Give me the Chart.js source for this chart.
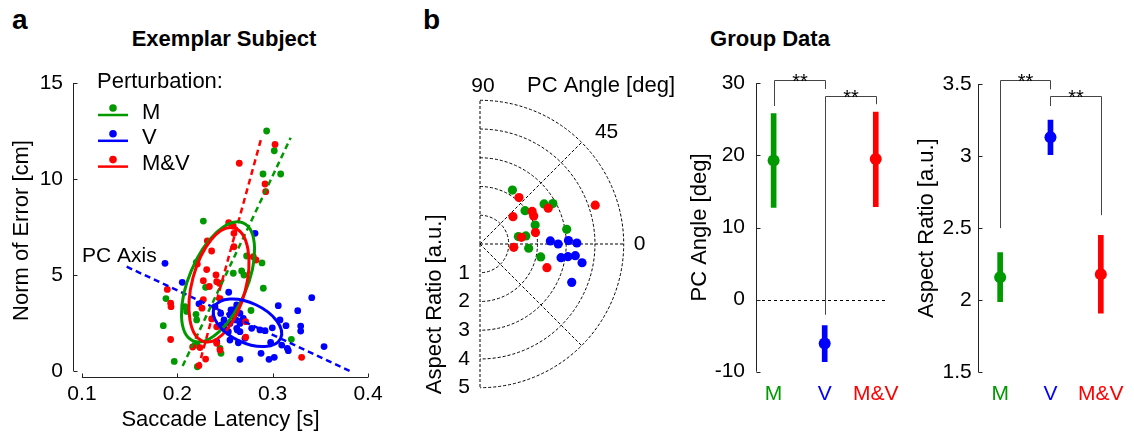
<!DOCTYPE html>
<html>
<head>
<meta charset="utf-8">
<script src="https://cdn.jsdelivr.net/npm/chart.js@4.4.1/dist/chart.umd.min.js"></script>
<style>
  body { margin: 0; background: #fff; }
  #page { position: relative; width: 1134px; height: 434px; overflow: hidden; font-family: 'Liberation Sans', Arial, sans-serif; }
  canvas { position: absolute; top: 0; }
  .txt { position: absolute; white-space: nowrap; color: #000; line-height: 1; font-weight: bold; }
</style>
</head>
<body>
<div id="page">
  <div class="txt" style="left:12px; top:6px; font-size:28px;">a</div>
  <div class="txt" style="left:423px; top:6px; font-size:28px;">b</div>
  <div class="txt" style="left:224px; top:28px; font-size:22px; transform:translateX(-50%);">Exemplar Subject</div>
  <div class="txt" style="left:770px; top:28px; font-size:22px; transform:translateX(-50%);">Group Data</div>
  <canvas id="scatter" width="400" height="434" style="left:0px"></canvas>
  <canvas id="polar" width="300" height="434" style="left:400px"></canvas>
  <canvas id="angle" width="230" height="434" style="left:680px"></canvas>
  <canvas id="ratio" width="224" height="434" style="left:910px"></canvas>
</div>
<script>
const colorM = '#009900'
const colorV = '#0000ff'
const colorMV = '#ff0000'

// panel a: one subject, saccade latency [s] vs norm of error [cm]
const latencyTicks = [0.1, 0.2, 0.3, 0.4]
const errorTicks = [0, 5, 10, 15]

const latencyM = [0.2937, 0.3017, 0.2899, 0.3084, 0.2273, 0.2727, 0.2199, 0.2888, 0.2587, 0.2675, 0.2699, 0.2902, 0.2297,
  0.1881, 0.208, 0.2098, 0.2196, 0.2203, 0.1853, 0.2773, 0.3196, 0.2458, 0.221, 0.1968, 0.2206, 0.2448]
const errorM = [12.5, 11.47, 10.26, 10.26, 7.81, 5.99, 5.66, 5.63, 5.09, 5.21, 5.0, 4.31, 4.36,
  3.77, 3.35, 3.1, 2.95, 2.66, 2.36, 3.15, 1.65, 0.92, 0.22, 0.5, 1.35, 1.18]

const latencyV = [0.1871, 0.2815, 0.2052, 0.2539, 0.341, 0.2227, 0.3059, 0.3263, 0.3294, 0.3294, 0.314, 0.3077, 0.2996,
  0.2867, 0.292, 0.278, 0.2623, 0.2657, 0.271, 0.2552, 0.264, 0.2979, 0.3095, 0.3154, 0.3164, 0.3539, 0.2878, 0.2657,
  0.2962, 0.3017, 0.2413, 0.2623, 0.2587, 0.2552, 0.2657, 0.2395, 0.2455, 0.249, 0.2563, 0.2605, 0.2465, 0.249, 0.2535,
  0.2552, 0.2605, 0.2629, 0.2657, 0.2692]
const errorV = [5.61, 7.17, 4.62, 4.1, 3.82, 3.5, 3.4, 3.14, 2.34, 2.08, 2.36, 2.66, 2.25,
  2.14, 2.1, 2.22, 2.22, 2.05, 1.7, 1.61, 1.47, 1.49, 1.35, 1.18, 1.06, 1.27, 0.92, 0.61,
  0.61, 0.71, 1.53, 3.44, 3.18, 2.92, 3.0, 3.35, 3.0, 2.66, 3.18, 3.18, 2.4, 2.22, 2.05,
  2.48, 2.66, 2.14, 2.48, 2.74]

const latencyMV = [0.3025, 0.265, 0.292, 0.2927, 0.2539, 0.2587, 0.2594, 0.2315, 0.236, 0.2594, 0.2797, 0.2825, 0.221,
  0.2308, 0.2406, 0.1895, 0.193, 0.1934, 0.2273, 0.2336, 0.2413, 0.244, 0.2273, 0.2448, 0.2259, 0.236, 0.2413, 0.193,
  0.2161, 0.2238, 0.2413, 0.2448, 0.2297, 0.2227, 0.3304, 0.2717, 0.2717]
const errorMV = [11.8, 10.82, 9.74, 9.34, 7.72, 7.55, 7.17, 6.77, 6.25, 6.47, 5.95, 5.78, 5.57,
  5.28, 5.0, 4.25, 3.53, 3.35, 4.7, 4.4, 4.65, 4.57, 3.72, 3.77, 3.27, 2.71, 2.3, 1.64,
  1.25, 1.22, 1.44, 1.09, 0.62, 0.28, 0.71, 2.57, 1.76]

// principal component axes (end points)
const pcLatencyM = [0.2056, 0.3189]
const pcErrorM = [0.26, 12.15]
const pcLatencyV = [0.1469, 0.3811]
const pcErrorV = [5.43, 0]
const pcLatencyMV = [0.222, 0.2885]
const pcErrorMV = [0.17, 12.2]

// covariance ellipses: centre, major semi-axis, minor semi-axis (data units)
const ellipseM = [[0.2427, 4.64], [0.0262, 3.07], [0.028, -0.59]]
const ellipseV = [[0.2736, 2.51], [0.0348, -0.807], [0.0088, 0.94]]
const ellipseMV = [[0.2437, 4.49], [0.0157, 2.96], [0.0273, -0.36]]

// panel b: PC angle [deg] and aspect ratio per subject
const angleM = [59, 36.5, 32, 29, 19, 11, 10, -5, -12, 9.6]
const ratioM = [2.19, 1.95, 2.63, 2.9, 2.03, 1.36, 1.62, 1.7, 2.16, 3.06]
const angleV = [2.5, 0, 2.2, 0.6, -9.6, -8.2, -7.0, -10.4, -22.7]
const ratioV = [2.45, 2.72, 3.08, 3.37, 2.86, 3.09, 3.34, 3.61, 3.46]
const angleMV = [50, 39.6, 32, 27.6, 27.7, 11.6, 9.2, -5.6, -19.5, 18.6]
const ratioMV = [2.11, 1.49, 2.14, 2.11, 2.68, 1.97, 1.46, 1.18, 2.47, 4.23]
const ratioRings = [1, 2, 3, 4, 5]
const angleSpokes = [90, 45, 0, -45, -90]

// group data
const groups = ['M', 'V', 'M&V']
const groupColors = [colorM, colorV, colorMV]
const angleMean = [19.3, -6.1, 19.5]
const angleLow = [12.8, -8.6, 12.9]
const angleHigh = [25.8, -3.6, 26.0]
const angleTicks = [-10, 0, 10, 20, 30]
const ratioMean = [2.16, 3.13, 2.18]
const ratioLow = [1.99, 3.01, 1.91]
const ratioHigh = [2.33, 3.25, 2.45]
const ratioTicks = [1.5, 2, 2.5, 3, 3.5]
// significance brackets: [from group, to group, bracket level, left end, right end]
const angleBrackets = [[0, 1, 30.46, 26.85, 29.2], [1, 2, 28.2, -2.1, 27.1]]
const ratioBrackets = [[0, 1, 3.528, 2.5, 3.463], [1, 2, 3.415, 3.347, 2.59]]

Chart.defaults.font.family = "'Liberation Sans', Arial, sans-serif"
Chart.defaults.color = '#000'

const pts = (xs, ys) => xs.map((x, i) => ({ x, y: ys[i] }))
const polarPts = (as, rs) => as.map((a, i) => ({
  x: rs[i] * Math.cos(a * Math.PI / 180),
  y: rs[i] * Math.sin(a * Math.PI / 180)
}))

// axis lines with inward ticks, offset from each other like the original
const axisLines = {
  id: 'axisLines',
  afterDraw(chart, args, opts) {
    const { ctx, chartArea, scales } = chart
    ctx.save()
    ctx.strokeStyle = '#222'
    ctx.lineWidth = 1
    ctx.beginPath()
    if (opts.y) {
      const ys = scales.y
      const x0 = Math.round(chartArea.left) + 0.5
      ctx.moveTo(x0, ys.getPixelForValue(opts.y[0]))
      ctx.lineTo(x0, ys.getPixelForValue(opts.y[1]))
      ys.ticks.forEach((t) => {
        const p = Math.round(ys.getPixelForValue(t.value)) + 0.5
        ctx.moveTo(x0, p)
        ctx.lineTo(x0 + 4, p)
      })
    }
    if (opts.x) {
      const xs = scales.x
      const y0 = Math.round(chartArea.bottom) - 0.5
      ctx.moveTo(xs.getPixelForValue(opts.x[0]), y0)
      ctx.lineTo(xs.getPixelForValue(opts.x[1]), y0)
      xs.ticks.forEach((t) => {
        const p = Math.round(xs.getPixelForValue(t.value)) + 0.5
        ctx.moveTo(p, y0)
        ctx.lineTo(p, y0 - 4)
      })
    }
    ctx.stroke()
    ctx.restore()
  }
}

const ellipses = {
  id: 'ellipses',
  afterDatasetsDraw(chart) {
    const { ctx, scales: { x, y } } = chart
    const list = [[ellipseM, colorM], [ellipseMV, colorMV], [ellipseV, colorV]]
    list.forEach(([e, color]) => {
      const [c, a, b] = e
      const cx = x.getPixelForValue(c[0]), cy = y.getPixelForValue(c[1])
      const ax = x.getPixelForValue(c[0] + a[0]) - cx, ay = y.getPixelForValue(c[1] + a[1]) - cy
      const bx = x.getPixelForValue(c[0] + b[0]) - cx, by = y.getPixelForValue(c[1] + b[1]) - cy
      ctx.save()
      ctx.beginPath()
      ctx.transform(ax, ay, bx, by, cx, cy)
      ctx.arc(0, 0, 1, 0, Math.PI * 2)
      ctx.restore()
      ctx.save()
      ctx.strokeStyle = color
      ctx.lineWidth = 3
      ctx.stroke()
      ctx.restore()
    })
  }
}

const scatterLegend = {
  id: 'scatterLegend',
  afterDraw(chart) {
    const ctx = chart.ctx
    ctx.save()
    ctx.fillStyle = '#000'
    ctx.textBaseline = 'alphabetic'
    ctx.font = "22px 'Liberation Sans', Arial, sans-serif"
    ctx.fillText('Perturbation:', 97, 88)
    groups.forEach((g, i) => {
      const dy = i * 25.8
      ctx.strokeStyle = groupColors[i]
      ctx.lineWidth = 2.5
      ctx.beginPath()
      ctx.moveTo(98, 115 + dy)
      ctx.lineTo(128, 115 + dy)
      ctx.stroke()
      ctx.fillStyle = groupColors[i]
      ctx.beginPath()
      ctx.arc(113, 108 + dy, 3.8, 0, Math.PI * 2)
      ctx.fill()
      ctx.fillStyle = '#000'
      ctx.fillText(g, 142, 118.5 + dy)
    })
    ctx.font = "21px 'Liberation Sans', Arial, sans-serif"
    ctx.fillText('PC Axis', 82, 261.5)
    ctx.restore()
  }
}

const lineSet = (xs, ys, color) => ({
  type: 'line', data: pts(xs, ys), borderColor: color, borderWidth: 2.5,
  borderDash: [6, 4], pointRadius: 0, clip: false
})
const dotSet = (xs, ys, color) => ({
  type: 'scatter', data: pts(xs, ys), backgroundColor: color,
  pointRadius: 3.4, borderWidth: 0, clip: false
})

new Chart(document.getElementById('scatter'), {
  type: 'scatter',
  data: {
    datasets: [
      lineSet(pcLatencyMV, pcErrorMV, colorMV),
      lineSet(pcLatencyM, pcErrorM, colorM),
      lineSet(pcLatencyV, pcErrorV, colorV),
      dotSet(latencyMV, errorMV, colorMV),
      dotSet(latencyV, errorV, colorV),
      dotSet(latencyM, errorM, colorM),
    ]
  },
  plugins: [axisLines, ellipses, scatterLegend],
  options: {
    responsive: false,
    animation: false,
    layout: { padding: { left: 0, right: 32, top: 83, bottom: 0 } },
    plugins: {
      legend: { display: false },
      tooltip: { enabled: false },
      axisLines: { x: [0.1, 0.4], y: [0, 15] },
    },
    scales: {
      x: {
        type: 'linear', min: 0.0906, max: 0.4,
        grid: { display: false, drawTicks: false }, border: { display: false },
        afterBuildTicks: (s) => { s.ticks = latencyTicks.map((v) => ({ value: v })) },
        afterFit: (s) => { s.height = 56 },
        ticks: { autoSkip: false, maxRotation: 0, padding: 3.5, font: { size: 21 }, callback: (v) => String(v) },
        title: { display: true, text: 'Saccade Latency [s]', font: { size: 22 }, padding: { top: 0, bottom: 1 } },
      },
      y: {
        type: 'linear', min: -0.365, max: 15,
        grid: { display: false, drawTicks: false }, border: { display: false },
        afterBuildTicks: (s) => { s.ticks = errorTicks.map((v) => ({ value: v })) },
        afterFit: (s) => { s.width = 73 },
        ticks: { autoSkip: false, padding: 10, font: { size: 21 }, callback: (v) => String(v) },
        title: { display: true, text: 'Norm of Error [cm]', font: { size: 22 }, padding: { top: 9, bottom: 0 } },
      }
    }
  }
})

// half-polar plot drawn on a square linear x/y scale pair
const polarGrid = {
  id: 'polarGrid',
  beforeDatasetsDraw(chart) {
    const { ctx, scales: { x, y } } = chart
    const cx = x.getPixelForValue(0), cy = y.getPixelForValue(0)
    const unit = x.getPixelForValue(1) - cx
    const R = ratioRings[ratioRings.length - 1]
    ctx.save()
    ctx.strokeStyle = '#000'
    ctx.lineWidth = 1
    ctx.setLineDash([3, 2])
    ratioRings.forEach((r) => {
      ctx.beginPath()
      ctx.arc(cx, cy, r * unit, -Math.PI / 2, Math.PI / 2)
      ctx.stroke()
    })
    angleSpokes.forEach((a) => {
      const t = a * Math.PI / 180
      ctx.beginPath()
      ctx.moveTo(cx, cy)
      ctx.lineTo(x.getPixelForValue(R * Math.cos(t)), y.getPixelForValue(R * Math.sin(t)))
      ctx.stroke()
    })
    ctx.restore()
  },
  afterDraw(chart) {
    const { ctx, scales: { x, y } } = chart
    const R = ratioRings[ratioRings.length - 1]
    const at = (a) => [x.getPixelForValue(R * Math.cos(a * Math.PI / 180)), y.getPixelForValue(R * Math.sin(a * Math.PI / 180))]
    ctx.save()
    ctx.fillStyle = '#000'
    ctx.textBaseline = 'middle'
    ctx.textAlign = 'center'
    ctx.font = "21px 'Liberation Sans', Arial, sans-serif"
    let p = at(90)
    ctx.fillText('90', p[0] + 3, p[1] - 14)
    p = at(45)
    ctx.fillText('45', p[0] + 25, p[1] - 10)
    p = at(0)
    ctx.fillText('0', p[0] + 16, p[1])
    ctx.textAlign = 'right'
    const cx = x.getPixelForValue(0)
    ratioRings.forEach((r) => {
      ctx.fillText(String(r), cx - 10, y.getPixelForValue(-r))
    })
    ctx.textAlign = 'center'
    ctx.font = "22px 'Liberation Sans', Arial, sans-serif"
    p = at(90)
    ctx.fillText('PC Angle [deg]', p[0] + 121, p[1] - 14)
    ctx.translate(cx - 45, y.getPixelForValue(-2.1))
    ctx.rotate(-Math.PI / 2)
    ctx.fillText('Aspect Ratio [a.u.]', 0, 0)
    ctx.restore()
  }
}

const polarSet = (as, rs, color) => ({
  data: polarPts(as, rs), backgroundColor: color, pointRadius: 4.6, borderWidth: 0, clip: false
})

new Chart(document.getElementById('polar'), {
  type: 'scatter',
  data: {
    datasets: [
      polarSet(angleMV, ratioMV, colorMV),
      polarSet(angleV, ratioV, colorV),
      polarSet(angleM, ratioM, colorM),
    ]
  },
  plugins: [polarGrid],
  options: {
    responsive: false,
    animation: false,
    layout: { padding: { left: 80, right: 76.3, top: 100.3, bottom: 46.3 } },
    plugins: { legend: { display: false }, tooltip: { enabled: false } },
    scales: {
      x: { type: 'linear', min: 0, max: 5, display: false },
      y: { type: 'linear', min: -5, max: 5, display: false },
    }
  }
})

const groupMarks = {
  id: 'groupMarks',
  beforeDatasetsDraw(chart, args, opts) {
    const { ctx, chartArea, scales: { x, y } } = chart
    ctx.save()
    ctx.strokeStyle = '#000'
    ctx.lineWidth = 1
    if (opts.zeroLine) {
      const p = Math.round(y.getPixelForValue(0)) + 0.5
      ctx.setLineDash([3, 3])
      ctx.beginPath()
      ctx.moveTo(chartArea.left, p)
      ctx.lineTo(chartArea.right, p)
      ctx.stroke()
      ctx.setLineDash([])
    }
    ctx.strokeStyle = '#444'
    ctx.fillStyle = '#000'
    ctx.font = "20px 'Liberation Sans', Arial, sans-serif"
    ctx.textAlign = 'center'
    ctx.textBaseline = 'alphabetic'
    opts.brackets.forEach(([a, b, level, endA, endB]) => {
      const xa = Math.round(x.getPixelForValue(a)) + 0.5
      const xb = Math.round(x.getPixelForValue(b)) + 0.5
      const yl = Math.round(y.getPixelForValue(level)) + 0.5
      ctx.beginPath()
      ctx.moveTo(xa, y.getPixelForValue(endA))
      ctx.lineTo(xa, yl)
      ctx.lineTo(xb, yl)
      ctx.lineTo(xb, y.getPixelForValue(endB))
      ctx.stroke()
      ctx.fillText('**', (xa + xb) / 2, yl + 7)
    })
    ctx.restore()
  }
}

function groupChart(id, cfg) {
  return new Chart(document.getElementById(id), {
    type: 'bar',
    data: {
      datasets: [
        {
          type: 'scatter', data: pts([0, 1, 2], cfg.mean), backgroundColor: groupColors,
          pointRadius: 6, borderWidth: 0, clip: false
        },
        {
          type: 'bar', data: groups.map((g, i) => ({ x: i, y: [cfg.low[i], cfg.high[i]] })),
          backgroundColor: groupColors, barThickness: 5, borderWidth: 0, borderSkipped: false
        },
      ]
    },
    plugins: [axisLines, groupMarks],
    options: {
      responsive: false,
      animation: false,
      layout: { padding: { left: 0, right: cfg.padRight, top: cfg.padTop, bottom: 0 } },
      plugins: {
        legend: { display: false },
        tooltip: { enabled: false },
        axisLines: { y: [cfg.ticks[0], cfg.ticks[cfg.ticks.length - 1]] },
        groupMarks: { brackets: cfg.brackets, zeroLine: cfg.zeroLine },
      },
      scales: {
        x: {
          type: 'linear', min: cfg.xMin, max: cfg.xMax, offset: false,
          grid: { display: false, drawTicks: false }, border: { display: false },
          afterBuildTicks: (s) => { s.ticks = groups.map((g, i) => ({ value: i })) },
          afterFit: (s) => { s.height = cfg.xHeight },
          ticks: {
            autoSkip: false, maxRotation: 0, padding: cfg.xPad, font: { size: 21 },
            color: (c) => groupColors[c.index], callback: (v, i) => groups[i]
          },
        },
        y: {
          type: 'linear', min: cfg.ticks[0], max: cfg.ticks[cfg.ticks.length - 1],
          grid: { display: false, drawTicks: false }, border: { display: false },
          afterBuildTicks: (s) => { s.ticks = cfg.ticks.map((v) => ({ value: v })) },
          afterFit: (s) => { s.width = cfg.yWidth },
          ticks: { autoSkip: false, padding: cfg.yPad, font: { size: 21 }, callback: (v) => String(v) },
          title: { display: true, text: cfg.title, font: { size: 22 }, padding: { top: cfg.titlePad, bottom: 0 } },
        }
      }
    }
  })
}

groupChart('angle', {
  mean: angleMean, low: angleLow, high: angleHigh, ticks: angleTicks, brackets: angleBrackets,
  zeroLine: true, title: 'PC Angle [deg]',
  xMin: -0.345, xMax: 2.24, padRight: 17, padTop: 83.3, xHeight: 62.3, yWidth: 76,
  yPad: 11, xPad: 9.9, titlePad: 6.8,
})

groupChart('ratio', {
  mean: ratioMean, low: ratioLow, high: ratioHigh, ticks: ratioTicks, brackets: ratioBrackets,
  zeroLine: false, title: 'Aspect Ratio [a.u.]',
  xMin: -0.434, xMax: 2.54, padRight: 0, padTop: 84, xHeight: 61.7, yWidth: 68.3,
  yPad: 6.6, xPad: 9.3, titlePad: 3.5,
})
</script>
</body>
</html>
